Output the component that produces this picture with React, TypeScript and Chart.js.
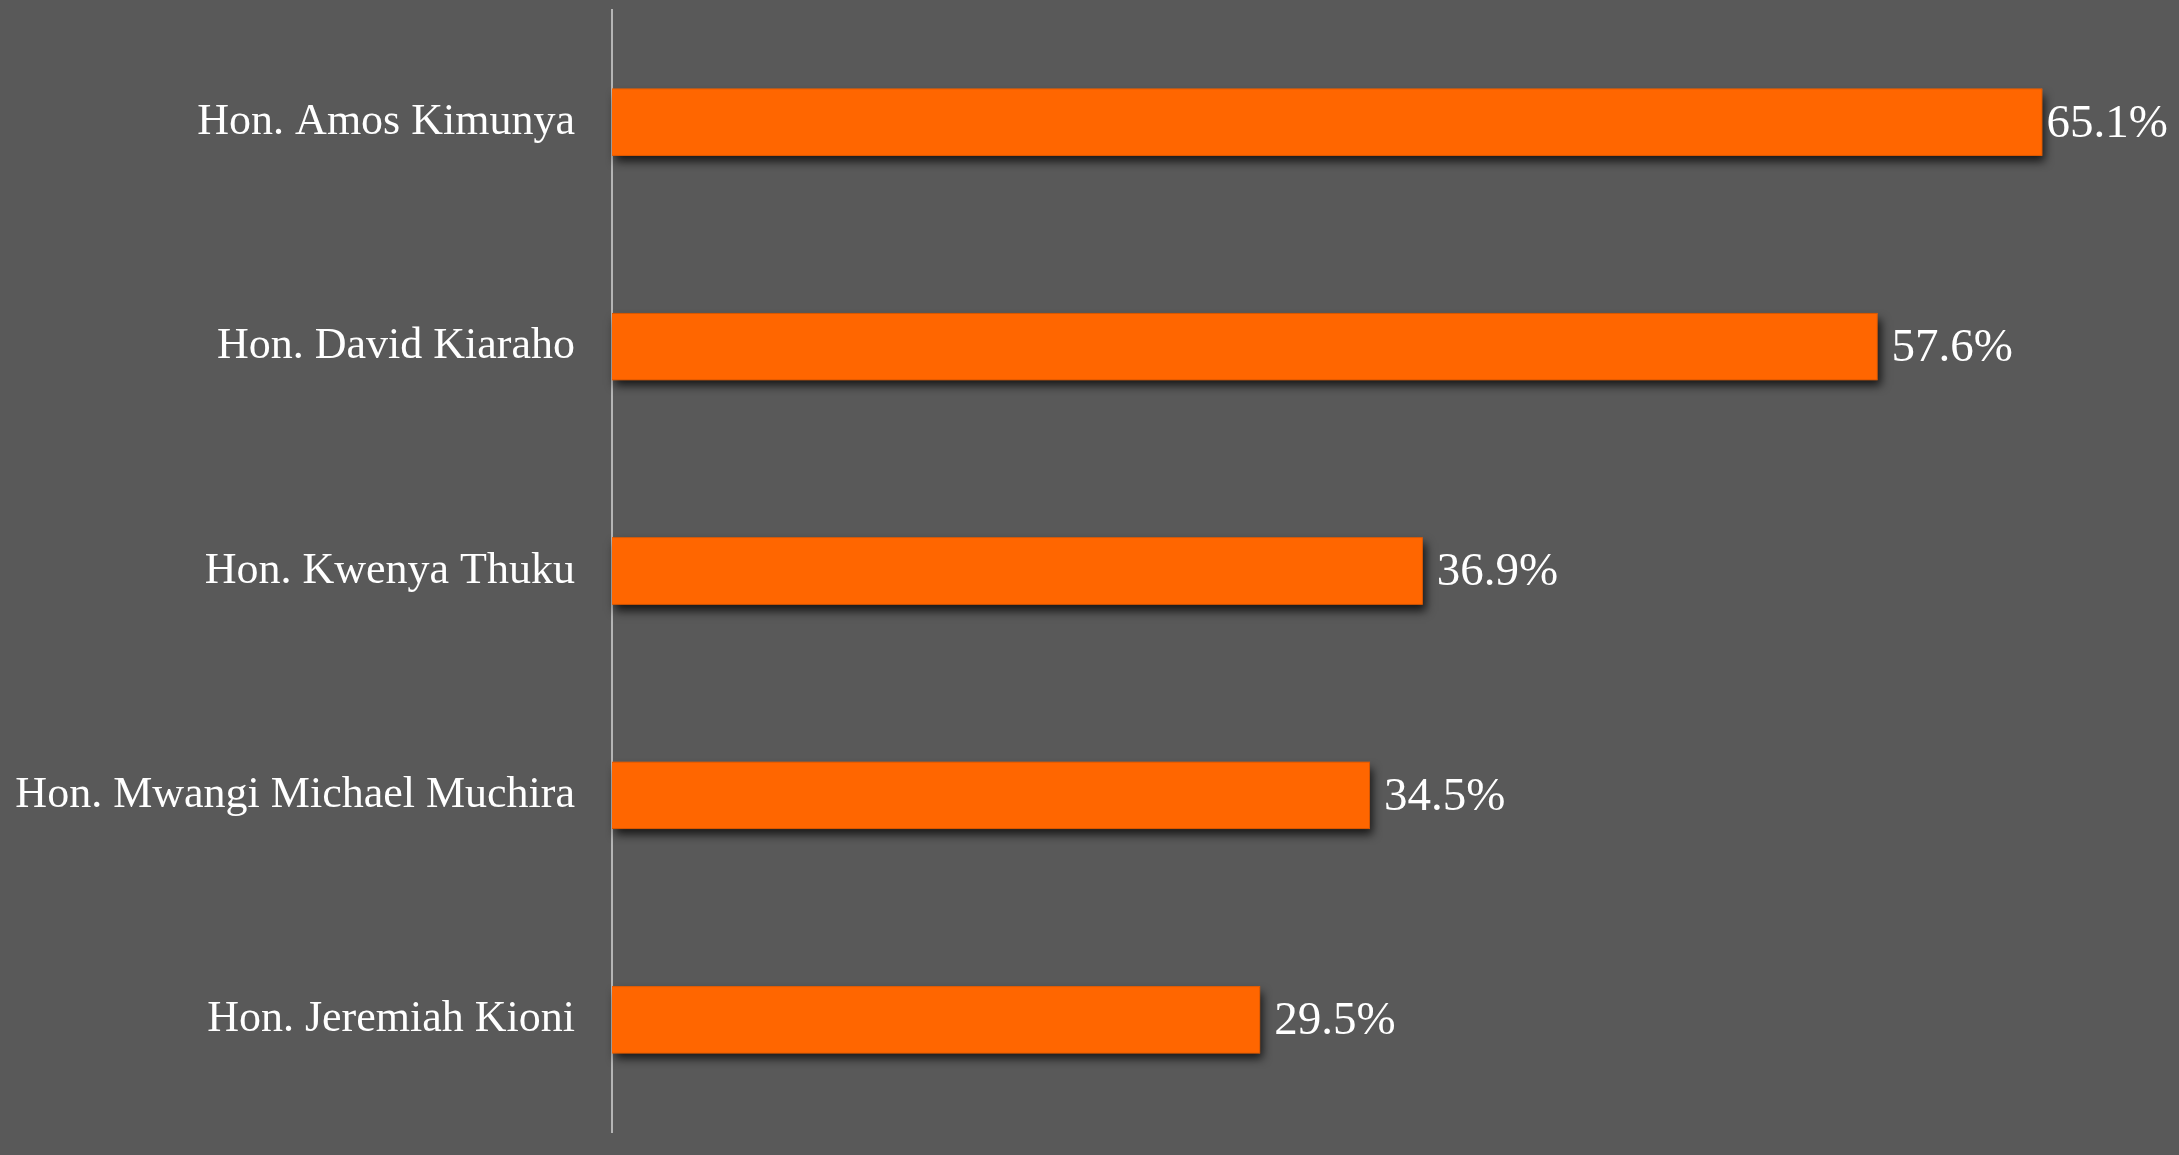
import React, { useEffect, useRef } from "react";
import { Chart, registerables } from "chart.js";

Chart.register(...registerables);

const categories = [
  "Hon. Amos Kimunya",
  "Hon. David Kiaraho",
  "Hon. Kwenya Thuku",
  "Hon. Mwangi Michael Muchira",
  "Hon. Jeremiah Kioni",
];
const values = [65.1, 57.6, 36.9, 34.5, 29.5];

const BG = "#595959";
const BAR = "#FF6600";
const FONT = "'Liberation Serif', 'DejaVu Serif', serif";

const shadowPlugin = {
  id: "barShadow",
  beforeDatasetsDraw(chart: any) {
    const ctx = chart.ctx;
    const meta = chart.getDatasetMeta(0);
    ctx.save();
    ctx.shadowColor = "rgba(0,0,0,0.75)";
    ctx.shadowBlur = 9;
    ctx.shadowOffsetX = 3;
    ctx.shadowOffsetY = 6;
    ctx.fillStyle = BAR;
    meta.data.forEach((bar: any) => {
      const left = Math.min(bar.base, bar.x);
      const w = Math.abs(bar.x - bar.base);
      ctx.fillRect(left, bar.y - bar.height / 2, w, bar.height);
    });
    ctx.restore();
  },
};

const valueLabelPlugin = {
  id: "valueLabels",
  afterDraw(chart: any) {
    const ctx = chart.ctx;
    const meta = chart.getDatasetMeta(0);
    ctx.save();
    ctx.font = `47px ${FONT}`;
    ctx.fillStyle = "#FFFFFF";
    ctx.textBaseline = "middle";
    ctx.textAlign = "left";
    meta.data.forEach((bar: any, i: number) => {
      const txt = values[i].toFixed(1) + "%";
      const w = ctx.measureText(txt).width;
      const x = Math.min(bar.x + 14, chart.width - w - 11);
      ctx.fillText(txt, x, bar.y + 2);
    });
    ctx.restore();
  },
};

export default function App() {
  const ref = useRef<HTMLCanvasElement | null>(null);
  useEffect(() => {
    document.body.style.background = BG;
    const chart = new Chart(ref.current as HTMLCanvasElement, {
      type: "bar",
      data: {
        labels: categories,
        datasets: [
          {
            data: values,
            backgroundColor: BAR,
            borderColor: "#D85700",
            borderWidth: 1,
            borderSkipped: "start",
            categoryPercentage: 1,
            barPercentage: 0.3,
          },
        ],
      },
      options: {
        indexAxis: "y",
        animation: false,
        responsive: false,
        maintainAspectRatio: false,
        layout: { padding: { top: 10, bottom: 23, right: 29, left: 0 } },
        plugins: {
          legend: { display: false },
          tooltip: { enabled: false },
        },
        scales: {
          x: {
            display: false,
            min: 0,
            max: 70,
            grid: { display: false },
          },
          y: {
            grid: { display: false, drawTicks: false },
            border: { display: true, color: "#B5B5B5", width: 2 },
            ticks: {
              color: "#FFFFFF",
              font: { family: FONT, size: 44 },
              padding: 37,
            },
            afterFit(scale: any) {
              scale.width = 612;
              scale.paddingTop = 0;
              scale.paddingBottom = 0;
            },
          },
        },
      },
      plugins: [shadowPlugin, valueLabelPlugin],
    });
    return () => chart.destroy();
  }, []);
  return (
    <div
      style={{
        position: "absolute",
        left: 0,
        top: 0,
        width: 2179,
        height: 1155,
        background: BG,
      }}
    >
      <canvas ref={ref} width={2179} height={1155} style={{ display: "block" }} />
    </div>
  );
}
